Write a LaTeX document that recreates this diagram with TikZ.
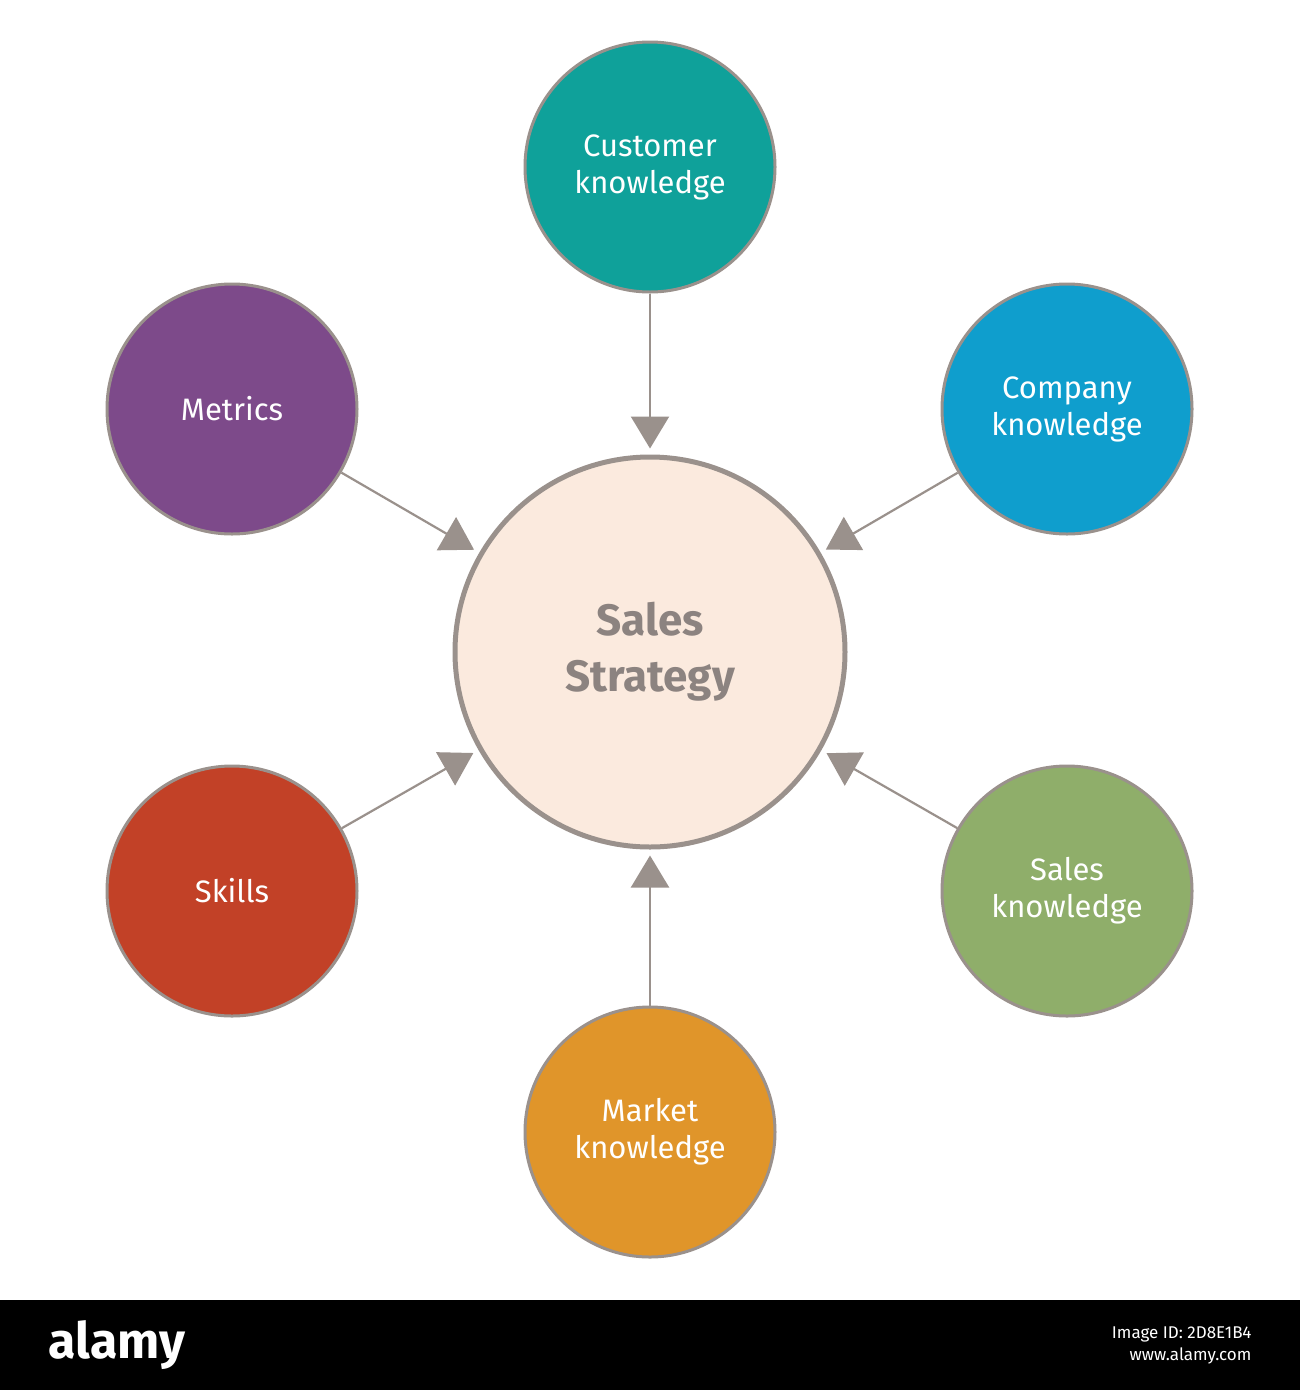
\documentclass[tikz,border=0pt]{standalone}
\usepackage{fontspec}
\setmainfont{Fira Sans}
\usetikzlibrary{arrows.meta}
\definecolor{edge}{HTML}{9A918C}
\definecolor{ctr}{HTML}{FBEADE}
\definecolor{cteal}{HTML}{0FA19A}
\definecolor{cblue}{HTML}{0F9ECD}
\definecolor{cgreen}{HTML}{8FAE6A}
\definecolor{corange}{HTML}{E0952A}
\definecolor{cred}{HTML}{C24127}
\definecolor{cpurple}{HTML}{7D4A8A}
\definecolor{ctext}{HTML}{8C8380}
\tikzset{
  outer/.style={circle,draw=edge,line width=3pt,minimum size=250pt,inner sep=0pt,text=white,align=center,font=\fontsize{31}{37}\selectfont},
  conn/.style={draw=edge,line width=2.2pt,-{Triangle[length=32pt,width=38pt]},shorten >=6pt}
}
\begin{document}
\begin{tikzpicture}[x=1pt,y=-1pt]
\useasboundingbox (0,0) rectangle (1300,1390);
\fill[white] (0,0) rectangle (1300,1300);
\node[circle,draw=edge,line width=5pt,fill=ctr,minimum size=390pt,inner sep=0pt,align=center,text=ctext,font=\bfseries\fontsize{44}{56}\selectfont] (c) at (650,652) {Sales\\Strategy};
\node[outer,fill=cteal] (cu) at (650,167) {Customer\\knowledge};
\node[outer,fill=cblue] (co) at (1067,409) {Company\\knowledge};
\node[outer,fill=cgreen] (sa) at (1067,891) {Sales\\knowledge};
\node[outer,fill=corange] (ma) at (650,1132) {Market\\knowledge};
\node[outer,fill=cred] (sk) at (232,891) {Skills};
\node[outer,fill=cpurple] (me) at (232,409) {Metrics};
\foreach \n in {cu,co,sa,ma,sk,me} \draw[conn] (\n) -- (c);
\fill[black] (0,1300) rectangle (1300,1390);
\node[text=white,font=\bfseries\fontsize{50}{50}\selectfont,anchor=west] (al) at (45,1345) {alamy};
\node[text=white,font=\fontsize{17}{22}\selectfont,anchor=east,align=right] (id) at (1255,1345) {Image ID: 2D8E1B4\\www.alamy.com};
\end{tikzpicture}
\end{document}
